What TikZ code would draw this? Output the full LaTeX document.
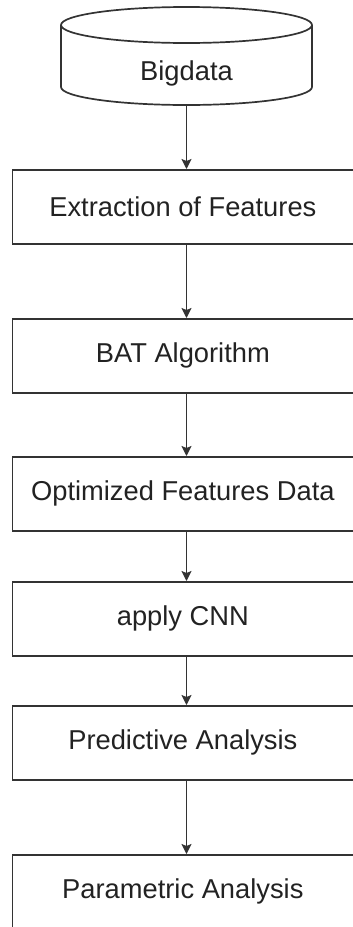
\documentclass[tikz,border=0pt]{standalone}
\usepackage{fontspec}
\setmainfont{Liberation Sans}
\usetikzlibrary{arrows.meta}
\definecolor{ink}{HTML}{222222}
\definecolor{edge}{HTML}{333333}
\begin{document}
\begin{tikzpicture}[x=1pt,y=1pt,
  label font/.style={font=\fontsize{27.3}{33}\selectfont, text=ink},
  stagebox/.style={draw=edge, line width=1.7pt, rectangle, anchor=north west,
    minimum width=341pt, minimum height=74pt, inner sep=0pt, label font},
  flow/.style={draw=edge, line width=1.5pt, -{Stealth[length=10pt,width=10pt,inset=2pt]}}]
  \useasboundingbox (0,0) rectangle (353,-927);

  % storage cylinder
  \draw[draw=edge, line width=1.7pt] (186.5,-25) ellipse [x radius=125.5, y radius=18];
  \draw[draw=edge, line width=1.7pt] (61,-25) -- (61,-87) arc[start angle=180, end angle=360, x radius=125.5, y radius=18] -- (312,-25);
  \node[label font] (bigdata) at (186.5,-73) {Bigdata};
  \coordinate (cylbot) at (186.5,-105);

  % process stages
  \node[stagebox] (extract) at (11.5,-169) {Extraction of Features};
  \node[stagebox] (bat)     at (11.5,-318) {BAT Algorithm};
  \node[stagebox] (optim)   at (11.5,-456) {Optimized Features Data};
  \node[stagebox] (cnn)     at (11.5,-581) {apply CNN};
  \node[stagebox] (predict) at (11.5,-705) {Predictive Analysis};
  \node[stagebox] (param)   at (11.5,-854) {Parametric Analysis};

  % connectors
  \draw[flow] (cylbot) -- (extract.north -| cylbot);
  \draw[flow] (extract.south -| cylbot) -- (bat.north -| cylbot);
  \draw[flow] (bat.south -| cylbot) -- (optim.north -| cylbot);
  \draw[flow] (optim.south -| cylbot) -- (cnn.north -| cylbot);
  \draw[flow] (cnn.south -| cylbot) -- (predict.north -| cylbot);
  \draw[flow] (predict.south -| cylbot) -- (param.north -| cylbot);
\end{tikzpicture}
\end{document}
